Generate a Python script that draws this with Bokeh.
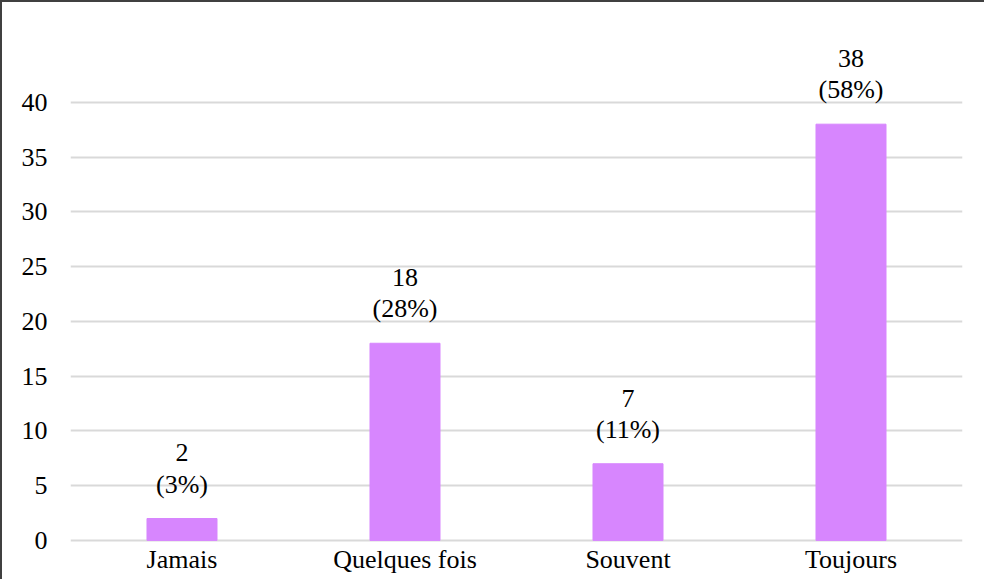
from bokeh.plotting import figure
from bokeh.models import ColumnDataSource, FixedTicker
from bokeh.embed import file_html
from bokeh.resources import INLINE
from bokeh.core.properties import value

categories = ["Jamais", "Quelques fois", "Souvent", "Toujours"]
counts = [2, 18, 7, 38]
percents = ["3%", "28%", "11%", "58%"]
y_ticks = [0, 5, 10, 15, 20, 25, 30, 35, 40]

labels = [f"{c}\n({p})" for c, p in zip(counts, percents)]
src = ColumnDataSource(dict(cat=categories, val=counts, lab=labels, zero=[0] * len(counts)))

FONT = "Liberation Serif"

p = figure(x_range=categories, y_range=(-3.75, 45.0), width=984, height=579,
           output_backend="svg", toolbar_location=None,
           min_border_left=68, min_border_right=24, min_border_top=45, min_border_bottom=0)
p.styles = {"border-top": "2px solid #404040", "border-left": "2px solid #404040"}

p.vbar(x="cat", top="val", bottom=0, width=0.314, source=src, color="#D786FE")
p.text(x="cat", y="val", text="lab", source=src, text_align="center", text_baseline="bottom",
       y_offset=-20, text_font=value(FONT), text_font_size="26px", text_color="#000000",
       text_line_height=1.07)
# category labels drawn under the zero line
p.text(x="cat", y="zero", text="cat", source=src, text_align="center", text_baseline="top",
       y_offset=5, text_font=value(FONT), text_font_size="26px", text_color="#000000")

p.outline_line_color = None
p.xaxis.visible = False
p.xgrid.grid_line_color = None
p.ygrid.grid_line_color = "#d9d9d9"
p.ygrid.grid_line_width = 2
p.yaxis.ticker = FixedTicker(ticks=y_ticks)
p.yaxis.axis_line_color = None
p.yaxis.major_tick_line_color = None
p.yaxis.minor_tick_line_color = None
p.yaxis.major_label_text_font = FONT
p.yaxis.major_label_text_font_size = "26px"
p.yaxis.major_label_text_color = "#000000"
p.yaxis.major_label_standoff = 17

open("out.html", "w").write(file_html(p, INLINE))
